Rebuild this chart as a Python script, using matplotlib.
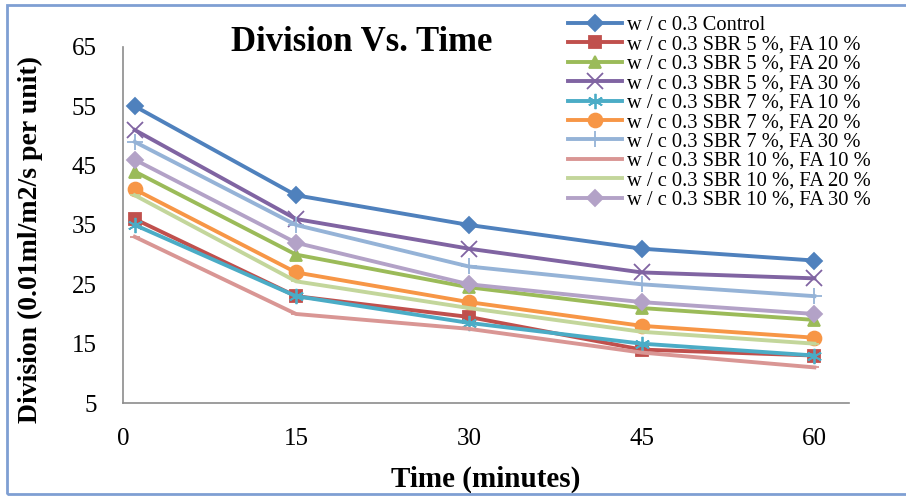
import matplotlib.pyplot as plt
from matplotlib.patches import Rectangle

plt.rcParams['font.family'] = ['Liberation Serif', 'DejaVu Serif']

# time (minutes)
t = [1, 15, 30, 45, 60]

labels = ['w / c 0.3 Control',
          'w / c 0.3 SBR 5 %, FA 10 %',
          'w / c 0.3 SBR 5 %, FA 20 %',
          'w / c 0.3 SBR 5 %, FA 30 %',
          'w / c 0.3 SBR 7 %, FA 10 %',
          'w / c 0.3 SBR 7 %, FA 20 %',
          'w / c 0.3 SBR 7 %, FA 30 %',
          'w / c 0.3 SBR 10 %, FA 10 %',
          'w / c 0.3 SBR 10 %, FA 20 %',
          'w / c 0.3 SBR 10 %, FA 30 %']

control = [55, 40, 35, 31, 29]
sbr5_fa10 = [36, 23, 19.5, 14, 13]
sbr5_fa20 = [44, 30, 24.5, 21, 19]
sbr5_fa30 = [51, 36, 31, 27, 26]
sbr7_fa10 = [35, 23, 18.5, 15, 13]
sbr7_fa20 = [41, 27, 22, 18, 16]
sbr7_fa30 = [49, 35, 28, 25, 23]
sbr10_fa10 = [33, 20, 17.5, 13.5, 11]
sbr10_fa20 = [40, 25.5, 21, 17, 15]
sbr10_fa30 = [46, 32, 25, 22, 20]

series = [control, sbr5_fa10, sbr5_fa20, sbr5_fa30, sbr7_fa10,
          sbr7_fa20, sbr7_fa30, sbr10_fa10, sbr10_fa20, sbr10_fa30]

colors = ['#4F81BD', '#C0504D', '#9BBB59', '#8064A2', '#4BACC6',
          '#F79646', '#95B3D7', '#D99694', '#C3D69B', '#B3A2C7']
markers = ['D', 's', '^', 'x', (6, 2, 0), 'o', '+', '_', '_', 'D']
msizes = [8, 9, 9, 11, 11, 10, 12, 7, 7, 8]

fig = plt.figure(figsize=(9.06, 4.96), dpi=100)
ax = fig.add_axes([0.136, 0.1875, 0.801, 0.718])

for y, lab, c, m, ms in zip(series, labels, colors, markers, msizes):
    ax.plot(t, y, color=c, lw=2.8, marker=m, markersize=ms,
            markeredgewidth=1.3, label=lab)

ax.set_xlim(0, 63)
ax.set_ylim(5, 65)
ax.set_xticks([0, 15, 30, 45, 60])
ax.set_yticks([5, 15, 25, 35, 45, 55, 65])
ax.tick_params(length=0, labelsize=18)
ax.tick_params(axis='y', pad=19)
ax.tick_params(axis='x', pad=18)
for s in ['top', 'right']:
    ax.spines[s].set_visible(False)
for s in ['left', 'bottom']:
    ax.spines[s].set_color('#8c8c8c')
    ax.spines[s].set_linewidth(1.2)

ax.set_xlabel('Time (minutes)', fontsize=21, fontweight='bold', va='center')
ax.xaxis.set_label_coords(0.499, -0.214)
ax.set_ylabel('Division (0.01ml/m2/s per unit)', fontsize=20,
              fontweight='bold', va='center')
ax.yaxis.set_label_coords(-0.128, 0.458)
fig.text(0.399, 0.914, 'Division Vs. Time', fontsize=25, fontweight='bold',
         ha='center', va='center')

fig.legend(loc='upper left', bbox_to_anchor=(0.627, 0.968), frameon=False,
           fontsize=14.8, handlelength=2.6, handletextpad=0.25,
           labelspacing=0.0, borderpad=0, borderaxespad=0)

# outer border
fig.patches.append(Rectangle((0.0077, 0.004), 1.0, 0.986,
                             transform=fig.transFigure, fill=False,
                             edgecolor='#7F9FD3', lw=2))

fig.savefig('out.png', dpi=100)
